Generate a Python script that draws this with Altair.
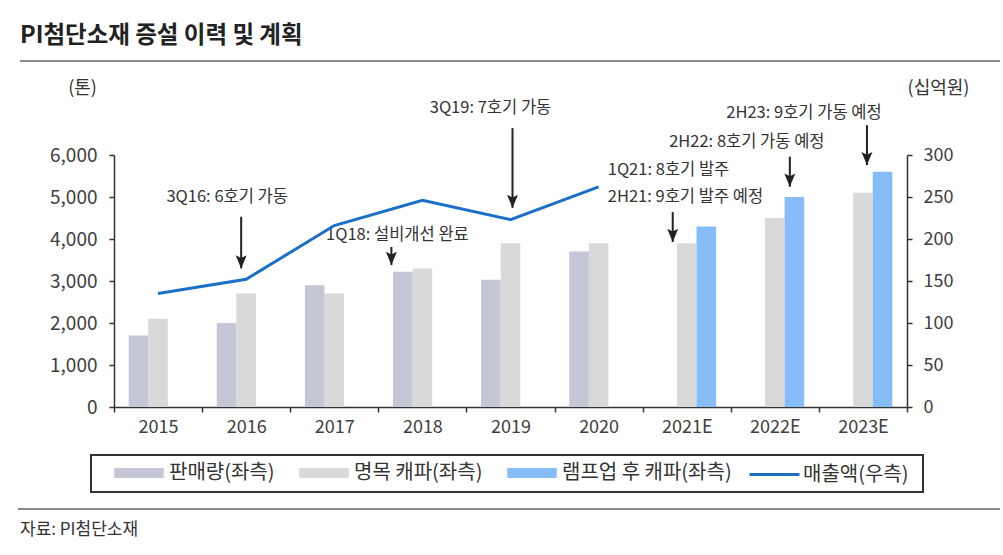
import altair as alt
import pandas as pd

# ---------------- data ----------------
categories = ["2015", "2016", "2017", "2018", "2019", "2020", "2021E", "2022E", "2023E"]
sales = [1700, 2000, 2900, 3220, 3030, 3700, None, None, None]            # 판매량 (톤)
nominal_cap = [2100, 2700, 2700, 3300, 3900, 3900, 3900, 4500, 5100]       # 명목 캐파 (톤)
rampup_cap = [None, None, None, None, None, None, 4300, 5000, 5600]        # 램프업 후 캐파 (톤)
revenue_years = ["2015", "2016", "2017", "2018", "2019", "2020"]
revenue = [135, 152, 216, 246, 223, 262]                                   # 매출액 (십억원)

bar_series = ["판매량(좌측)", "명목 캐파(좌측)", "램프업 후 캐파(좌측)"]
bar_colors = ["#c5c6d6", "#d9d9d9", "#86bdf8"]
line_series = ["매출액(우측)"]
line_colors = ["#1a70c8"]

# annotation texts: label, category, y (left-axis units)
ann_text = ["3Q16: 6호기 가동", "1Q18: 설비개선 완료", "3Q19: 7호기 가동",
            "1Q21: 8호기 발주", "2H21: 9호기 발주 예정",
            "2H22: 8호기 가동 예정", "2H23: 9호기 가동 예정"]
ann_text_cat = ["2016", "2018", "2019", "2021E", "2021E", "2022E", "2023E"]
ann_text_y = [5010, 4095, 7120, 5640, 5000, 6320, 6990]
ann_text_dx = [-19, -25, -20, -79, -79, -28, -59]
ann_text_align = ["center", "center", "center", "left", "left", "center", "center"]

# arrows: category, start value, end value (left-axis units)
arrow_cat = ["2016", "2018", "2019", "2021E", "2022E", "2023E"]
arrow_from = [4530, 3810, 6640, 4640, 5960, 6710]
arrow_to = [3300, 3380, 4740, 3930, 5245, 5760]
arrow_dx = [-5, -31, 2, -14, 15, 4]

FONT = "Noto Sans CJK KR"
TXT = "#333333"

# ---------------- tables ----------------
rows = []
for i, c in enumerate(categories):
    for name, vals in zip(bar_series, [sales, nominal_cap, rampup_cap]):
        if vals[i] is not None:
            rows.append({"cat": c, "series": name, "value": vals[i]})
bars_df = pd.DataFrame(rows)
line_df = pd.DataFrame({"cat": revenue_years, "rev": revenue, "lseries": line_series * len(revenue)})
one = pd.DataFrame({"a": [0]})

W, H = 793, 252

x_enc = alt.X(
    "cat:N",
    scale=alt.Scale(domain=categories, paddingInner=0, paddingOuter=0),
    axis=alt.Axis(title=None, labelFontSize=18, labelColor="#404040", labelAngle=0,
                  labelPadding=6, tickBand="extent", tickSize=5, tickColor="#333",
                  tickWidth=1.5, domainColor="#333", domainWidth=1.5, grid=False),
)
y_left = alt.Y(
    "value:Q",
    scale=alt.Scale(domain=[0, 6000], nice=False),
    axis=alt.Axis(title="(톤)", titleAngle=0, titleX=-32, titleY=-67, titleAlign="center",
                  titleBaseline="middle", titleFontSize=18, titleFontWeight="normal",
                  titleColor=TXT, values=[0, 1000, 2000, 3000, 4000, 5000, 6000], format=",.0f",
                  labelFontSize=19, labelColor="#404040", labelPadding=12, tickSize=5,
                  tickColor="#333", tickWidth=1.5, domainColor="#333", domainWidth=1.5,
                  grid=False),
)

bars = alt.Chart(bars_df).mark_bar().encode(
    x=x_enc,
    xOffset=alt.XOffset("series:N", scale=alt.Scale(domain=bar_series, paddingOuter=0.75,
                                                     paddingInner=0)),
    y=y_left,
    color=alt.Color(
        "series:N",
        scale=alt.Scale(domain=bar_series, range=bar_colors),
        legend=alt.Legend(
            orient="none", legendX=0, legendY=293, direction="horizontal", title=None,
            labelFontSize=20, labelColor=TXT, labelFont=FONT, labelLimit=400, symbolSize=2450,
            symbolType="M-1,-0.2H1V0.2H-1Z", symbolStrokeWidth=0, symbolOpacity=1,
            columnPadding=24, labelOffset=5, padding=0,
        ),
    ),
)

left_layers = [bars]
for t, c, yv, dx, al in zip(ann_text, ann_text_cat, ann_text_y, ann_text_dx, ann_text_align):
    d = pd.DataFrame({"cat": [c], "value": [yv], "label": [t]})
    left_layers.append(
        alt.Chart(d).mark_text(fontSize=16.5, color=TXT, align=al, baseline="middle", dx=dx)
        .encode(x=x_enc, y=y_left, text="label:N")
    )
arrow_path = "M0,0L-1,-2.4L0,-1.9L1,-2.4Z"
for c, a0, a1, dx in zip(arrow_cat, arrow_from, arrow_to, arrow_dx):
    d = pd.DataFrame({"cat": [c], "value": [a0], "end": [a1]})
    left_layers.append(
        alt.Chart(d).mark_rule(color="#222", strokeWidth=2, xOffset=dx)
        .encode(x=x_enc, y=y_left, y2="end:Q")
    )
    tip = pd.DataFrame({"cat": [c], "value": [a1]})
    left_layers.append(
        alt.Chart(tip).mark_point(shape=arrow_path, filled=True, size=121, color="#222",
                                  opacity=1, strokeWidth=0, xOffset=dx)
        .encode(x=x_enc, y=y_left)
    )
left = alt.layer(*left_layers)

line = alt.Chart(line_df).mark_line(strokeWidth=3).encode(
    x=x_enc,
    y=alt.Y("rev:Q", scale=alt.Scale(domain=[0, 300], nice=False),
            axis=alt.Axis(orient="right", title="(십억원)", titleAngle=0, titleX=31, titleY=-67,
                          titleAlign="center", titleBaseline="middle", titleFontSize=18,
                          titleFontWeight="normal", titleColor=TXT, format=".0f",
                          values=[0, 50, 100, 150, 200, 250, 300], labelFontSize=18,
                          labelColor="#404040", labelPadding=11, tickSize=5, tickColor="#333",
                          tickWidth=1.5, domainColor="#333", domainWidth=1.5, grid=False)),
    stroke=alt.Stroke(
        "lseries:N",
        scale=alt.Scale(domain=line_series, range=line_colors),
        legend=alt.Legend(
            orient="none", legendX=634, legendY=293, direction="horizontal", title=None,
            labelFontSize=20, labelColor=TXT, labelFont=FONT, labelLimit=400, symbolSize=2500,
            symbolType="stroke", symbolStrokeWidth=3, labelOffset=2, padding=0,
        ),
    ),
)

# decorations: title, separators, legend frame, source
title = alt.Chart(one).mark_text(text="PI첨단소재 증설 이력 및 계획", fontSize=23.5, fontWeight="bold",
                                 color="#222", align="left", baseline="middle").encode(
    x=alt.value(-94), y=alt.value(-119))
top_rule = alt.Chart(one).mark_rule(color="#8a8a8a", strokeWidth=2).encode(
    x=alt.value(-94), x2=alt.value(886), y=alt.value(-94))
bottom_rule = alt.Chart(one).mark_rule(color="#8a8a8a", strokeWidth=2).encode(
    x=alt.value(-96), x2=alt.value(886), y=alt.value(354))
legend_box = alt.Chart(one).mark_rect(fill="transparent", stroke="#333", strokeWidth=2).encode(
    x=alt.value(-23), x2=alt.value(809), y=alt.value(300), y2=alt.value(337))
source = alt.Chart(one).mark_text(text="자료: PI첨단소재", fontSize=17, color=TXT, align="left",
                                  baseline="middle").encode(x=alt.value(-94), y=alt.value(375))

chart = alt.layer(left, line, title, top_rule, bottom_rule, legend_box, source).resolve_scale(
    y="independent"
).properties(
    width=W, height=H,
    autosize=alt.AutoSizeParams(type="none"),
    padding={"left": 114, "top": 155, "right": 96, "bottom": 148},
).configure(font=FONT).configure_view(stroke=None)

chart.save("out.html", embed_options={"renderer": "svg", "actions": False})
